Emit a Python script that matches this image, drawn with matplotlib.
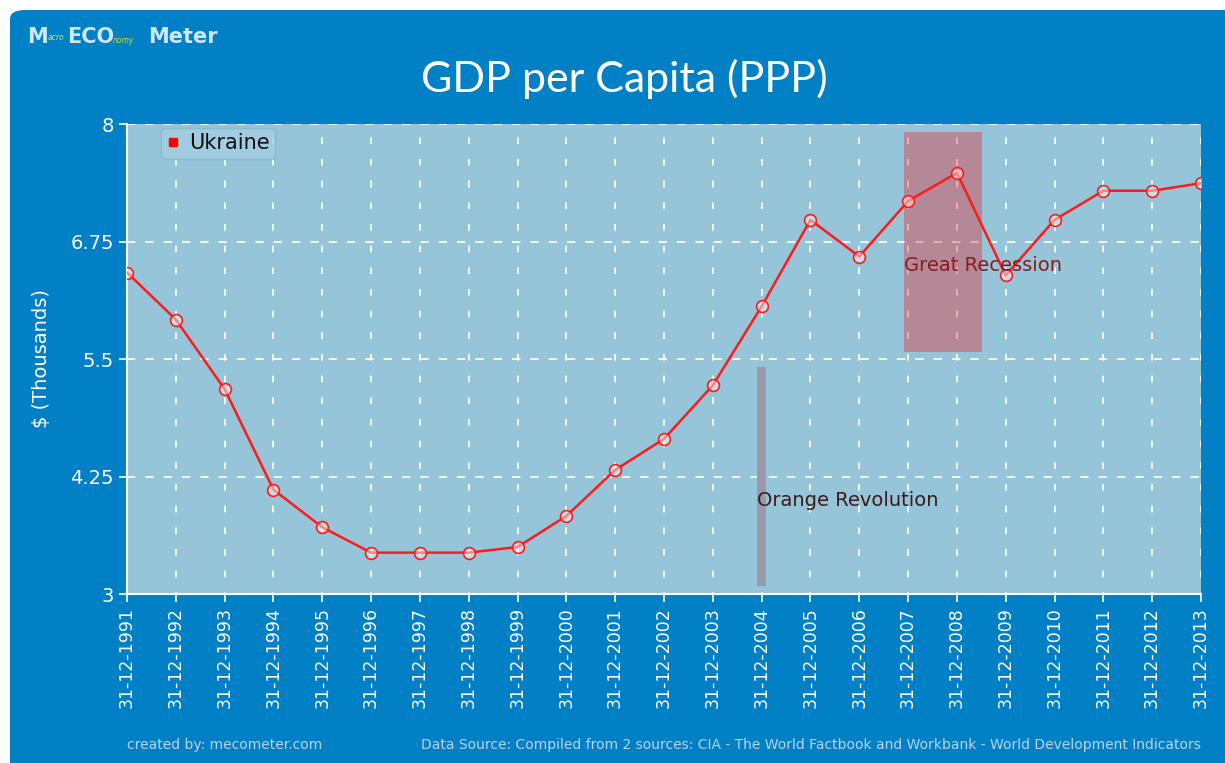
import matplotlib.pyplot as plt
from matplotlib.patches import FancyBboxPatch, Rectangle

years = list(range(1991, 2014))
gdp = [6.42, 5.92, 5.18, 4.11, 3.71, 3.44, 3.44, 3.44, 3.50, 3.83, 4.32,
       4.65, 5.22, 6.06, 6.98, 6.59, 7.18, 7.48, 6.39, 6.98, 7.29, 7.29, 7.37]
y_ticks = [3, 4.25, 5.5, 6.75, 8]
y_tick_labels = ['3', '4.25', '5.5', '6.75', '8']
x_labels = [f'31-12-{y}' for y in years]

# event bands: (label, start, end, low, high)
great_recession = ('Great Recession', 2006.92, 2008.52, 5.57, 7.92)
orange_revolution = ('Orange Revolution', 2003.9, 2004.09, 3.08, 5.42)

blue = '#0180c5'
panel = '#96c4d9'

fig = plt.figure(figsize=(12.25, 7.63), dpi=100)
fig.patch.set_facecolor('white')

# blue background card
card = FancyBboxPatch((10 / 1225, -0.05), 1.05, 1.05 - 10 / 763,
                      boxstyle='round,pad=0,rounding_size=0.012',
                      transform=fig.transFigure, facecolor=blue,
                      edgecolor='none', zorder=-10)
fig.patches.append(card)

ax = fig.add_axes([127 / 1225, 169 / 763, 1074 / 1225, 470 / 763])
ax.set_facecolor(panel)

# Great Recession band
label, x0, x1, lo, hi = great_recession
ax.add_patch(Rectangle((x0, lo), x1 - x0, hi - lo, facecolor='red',
                       alpha=0.3, edgecolor='none', zorder=1))
ax.text(x0, 6.5, label, color='#8b1a1a', fontsize=14, va='center',
        ha='left', zorder=5)

# Orange Revolution band
label, x0, x1, lo, hi = orange_revolution
ax.add_patch(Rectangle((x0, lo), x1 - x0, hi - lo, facecolor='#9a98ac',
                       edgecolor='none', zorder=1))
ax.text(x0, 4.0, label, color='#3a1a1a', fontsize=14, va='center',
        ha='left', zorder=5)

ax.plot(years, gdp, color='#ff1a1a', lw=1.8, marker='o', markersize=8.5,
        markerfacecolor=(1, 1, 1, 0.45), markeredgecolor='#ff1a1a',
        markeredgewidth=1.2, label='Ukraine', zorder=4)

ax.set_xlim(1991, 2013)
ax.set_ylim(3, 8)
ax.set_xticks(years)
ax.set_xticklabels(x_labels, rotation=90, color='white', fontsize=12.5)
ax.set_yticks(y_ticks)
ax.set_yticklabels(y_tick_labels, color='white', fontsize=14)
ax.tick_params(axis='both', colors='white', length=6, width=1.2)

ax.xaxis.grid(True, color='white', linestyle=(3, (4, 9)), linewidth=1.2)
ax.yaxis.grid(True, color='white', linestyle=(0, (5, 6)), linewidth=1.2)
ax.set_axisbelow(True)

for side in ['top', 'right']:
    ax.spines[side].set_visible(False)
for side in ['left', 'bottom']:
    ax.spines[side].set_color('white')
    ax.spines[side].set_linewidth(1.5)

ax.set_ylabel('$ (Thousands)', color='white', fontsize=14, labelpad=14)

# legend with a small red square handle
handle = plt.Line2D([], [], color='red', marker='s', linestyle='none',
                    markersize=6)
leg = ax.legend([handle], ['Ukraine'], loc='upper left',
                bbox_to_anchor=(0.028, 1.0), fontsize=15, frameon=True,
                fancybox=True, shadow=False, handlelength=0.6,
                handletextpad=0.5, borderpad=0.25, borderaxespad=0.2)
leg.get_frame().set_facecolor('#a5cfe2')
leg.get_frame().set_edgecolor('#86b4ca')
for t in leg.get_texts():
    t.set_color('#111111')

fig.text(0.51, 0.897, 'GDP per Capita (PPP)', ha='center', va='center',
         color='white', fontsize=31, family='Lato')

# logo
logo_y = 1 - 37 / 763
fig.text(27 / 1225, logo_y, 'M', color='#cfe6f5', fontsize=15,
         fontweight='bold', va='center')
fig.text(48 / 1225, logo_y, 'acro', color='#d8e83a', fontsize=5.5,
         va='center', style='italic')
fig.text(67 / 1225, logo_y, 'ECO', color='#cfe6f5', fontsize=15,
         fontweight='bold', va='center')
fig.text(113 / 1225, logo_y - 0.004, 'nomy', color='#c8e030', fontsize=5.5,
         va='center', style='italic')
fig.text(148 / 1225, logo_y, 'Meter', color='#cfe6f5', fontsize=15,
         fontweight='bold', va='center')

fig.text(127 / 1225, 1 - 745 / 763, 'created by: mecometer.com',
         color='#b8d4e6', fontsize=10, va='center', ha='left')
fig.text(1201 / 1225, 1 - 745 / 763,
         'Data Source: Compiled from 2 sources: CIA - The World Factbook '
         'and Workbank - World Development Indicators',
         color='#b8d4e6', fontsize=10, va='center', ha='right')

fig.savefig('out.png', dpi=100, facecolor=fig.get_facecolor())
